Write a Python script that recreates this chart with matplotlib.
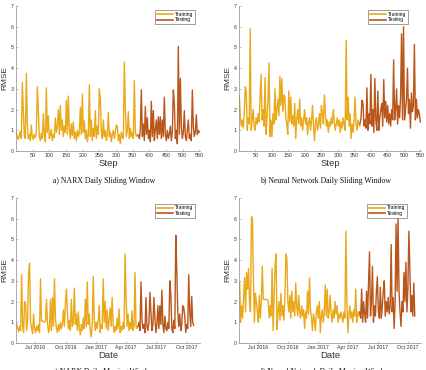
import numpy as np
import matplotlib
matplotlib.use("Agg")
import matplotlib.pyplot as plt

# ---------------- data ----------------
# a) NARX daily sliding window (step index, sampled every 3 steps)
a_train = [0.85,0.7,0.55,0.75,0.95,0.6,3.3,1.9,0.75,0.6,
           3.75,1.3,0.6,0.8,0.5,1.25,0.7,0.55,0.8,0.65,
           0.9,3.1,2.0,0.7,0.5,0.85,0.6,1.8,0.8,0.45,
           3.05,0.9,1.7,0.6,0.75,1.05,0.5,0.8,0.65,1.6,
           0.9,1.2,2.0,0.8,2.2,1.0,1.5,0.7,1.2,0.9,
           2.45,0.8,2.65,1.1,0.6,1.3,0.75,1.4,0.6,0.9,
           0.5,1.0,0.7,0.9,2.1,0.8,2.75,0.9,1.45,0.6,
           1.0,0.45,0.8,3.2,0.7,1.5,0.5,1.1,0.7,1.95,
           0.6,1.2,0.8,3.0,2.5,0.9,0.6,1.5,0.7,1.0,
           0.5,0.8,1.85,0.7,0.9,0.45,0.8,1.0,0.6,0.9,
           1.25,1.2,0.5,0.8,0.35,0.9,0.7,0.6,4.3,2.05,
           0.7,1.0,1.9,0.6,1.1,0.7,0.9,0.6,3.4,0.9,
           0.7,0.8,0.75]
a_test = [0.75,0.6,1.0,2.95,0.7,1.3,0.5,2.15,0.8,1.6,
          0.6,1.0,0.45,2.4,0.7,1.95,0.5,1.0,1.5,0.6,
          1.65,0.8,1.65,0.6,1.5,0.7,2.6,0.8,0.5,1.0,
          0.6,0.8,1.2,0.5,0.9,2.95,2.3,0.6,1.0,0.35,
          5.05,0.8,3.5,1.2,0.6,0.9,1.95,0.7,0.5,1.0,
          1.5,0.6,0.8,0.5,2.95,1.2,0.7,0.9,1.75,0.8,
          1.0,0.9]

# b) Neural network daily sliding window
b_train = [2.65,1.6,1.2,1.5,1.1,1.8,3.1,2.9,1.0,1.6,
           1.3,5.9,1.0,1.5,2.0,1.2,1.0,1.6,1.3,1.8,
           1.4,2.6,3.7,1.5,2.0,1.2,3.55,0.8,1.6,2.5,
           4.25,0.7,1.5,0.7,1.8,1.3,3.0,1.5,2.0,2.5,
           1.7,3.6,2.2,3.5,1.9,2.7,2.6,1.6,1.3,0.8,
           2.9,1.4,2.6,1.3,1.7,1.2,2.3,0.6,1.5,2.0,
           1.3,2.5,1.2,1.6,1.0,1.5,2.0,1.3,1.6,0.8,
           1.4,1.6,1.0,1.5,2.2,1.2,0.5,1.4,1.6,1.0,
           1.3,1.8,1.1,2.2,1.8,1.3,2.7,1.8,1.2,1.5,
           0.9,1.4,1.2,1.6,1.3,2.0,1.4,1.0,1.3,1.6,
           1.2,1.5,0.9,1.4,1.1,1.6,1.3,1.0,5.35,1.5,
           2.6,1.2,1.8,0.6,1.3,0.9,1.5,2.6,1.3,1.0,
           1.5,1.3,1.2]
b_test = [1.3,1.6,2.45,2.3,1.2,1.5,1.1,3.05,1.0,1.8,
          1.3,3.7,1.2,2.0,0.9,3.5,1.5,1.0,2.9,1.0,
          1.6,2.0,2.3,1.2,3.45,1.6,2.4,1.4,2.2,1.3,
          1.8,1.2,2.0,1.5,4.4,1.5,2.0,3.0,1.3,2.2,
          1.6,2.6,5.65,1.5,6.0,1.5,2.0,2.5,4.0,1.8,
          2.5,1.1,2.8,1.9,2.2,5.15,1.5,2.5,1.6,2.0,
          1.8,1.4]

# c) NARX daily moving window (every 3 days from start date)
c_train = [0.9,0.7,0.55,0.8,0.6,3.3,0.8,0.5,2.0,1.85,
           0.6,1.1,3.4,3.85,1.0,0.7,0.45,1.4,0.7,0.5,
           0.8,0.6,0.9,0.5,3.1,1.05,1.05,1.05,1.0,1.05,
           2.1,1.0,0.5,0.7,2.1,0.6,2.2,0.8,3.1,1.2,
           0.7,0.5,0.9,0.6,1.0,0.7,0.9,1.6,0.8,1.9,
           2.6,1.5,0.7,1.1,0.6,2.1,0.8,1.0,2.65,0.9,
           1.4,0.6,1.5,0.7,0.4,0.9,0.6,1.2,0.7,2.1,
           0.8,2.95,0.9,1.4,0.6,0.3,0.9,3.2,1.2,0.6,
           1.0,0.7,1.1,1.8,0.5,0.9,0.7,3.1,1.0,2.0,
           0.7,1.6,0.6,1.1,1.7,0.8,2.2,0.9,0.5,0.8,
           0.6,1.2,0.7,1.65,0.5,0.8,0.6,1.0,0.7,4.3,
           2.3,0.8,1.4,0.6,1.0,0.7,1.55,0.6,0.8,3.4,
           0.8,0.7,0.8]
c_test = [0.8,1.0,0.6,2.95,1.1,0.7,0.9,0.5,2.2,0.8,
          0.6,1.0,2.45,1.5,0.6,0.9,2.2,1.2,0.5,0.9,
          1.8,0.7,1.8,0.9,2.55,0.9,0.5,1.3,0.7,0.6,
          1.0,0.7,3.0,2.35,0.7,0.5,1.1,0.7,5.2,3.5,
          1.5,0.8,1.4,0.6,0.9,1.8,1.7,1.3,0.5,0.9,
          0.7,3.3,1.5,0.8,2.25,1.0,0.85]

# d) Neural network daily moving window
d_train = [2.9,1.0,1.8,1.2,2.2,3.15,1.5,3.4,2.6,3.6,
           2.0,1.5,6.1,6.0,3.0,1.0,2.4,2.0,1.5,1.0,
           2.3,1.2,2.0,3.7,2.1,2.1,2.1,2.1,2.1,2.0,
           1.2,1.8,1.3,3.6,0.6,2.2,3.75,4.3,0.65,1.5,
           2.0,1.1,2.4,1.3,1.8,1.1,2.2,4.3,4.1,2.0,
           1.5,2.3,1.2,2.5,1.5,2.0,1.3,2.9,1.8,1.3,
           2.3,1.5,1.2,1.8,1.3,1.6,0.7,1.5,1.2,2.5,
           1.4,3.15,1.6,1.2,0.6,1.4,1.1,0.6,1.5,1.8,
           1.2,2.0,0.5,1.3,1.6,1.0,1.5,2.8,1.3,2.6,
           1.2,1.5,2.3,1.4,1.0,1.6,1.2,2.0,1.4,1.8,
           1.0,1.4,1.2,1.5,1.3,1.0,1.5,1.2,5.4,2.0,
           0.5,1.3,1.8,1.2,1.5,1.0,1.6,1.3,2.6,1.0,
           1.5,1.3,1.5]
d_test = [1.5,1.2,2.6,1.0,2.0,1.4,1.0,2.5,1.2,2.9,
          4.4,1.3,2.0,3.7,1.0,1.8,1.3,2.5,3.2,1.5,
          1.2,2.7,1.2,1.8,2.5,3.0,1.3,2.0,1.5,2.2,
          1.4,1.8,4.75,1.5,2.2,0.7,2.0,5.75,2.5,6.1,
          2.5,1.5,0.8,2.0,1.5,3.4,2.0,3.9,1.5,2.6,
          5.4,3.6,1.5,2.3,1.3,2.9,1.3]

titles = ["a) NARX Daily Sliding Window",
          "b) Neural Network Daily Sliding Window",
          "c) NARX Daily Moving Window",
          "d) Neural Network Daily Moving Window"]
step_ticks = [50,100,150,200,250,300,350,400,450,500,550]
date_ticks = ["2016-07-01","2016-10-01","2017-01-01","2017-04-01","2017-07-01","2017-10-01"]
date_labels = ["Jul 2016","Oct 2016","Jan 2017","Apr 2017","Jul 2017","Oct 2017"]
start_date = "2016-05-06"
sample_every = 3

# ---------------- style ----------------
TRAIN_C = "#EAA91A"
TEST_C = "#B9561B"
SPINE_C = "#8a8a8a"
TXT_C = "#333333"
plt.rcParams['font.family'] = ['Liberation Sans', 'DejaVu Sans']

W, H = 427, 370
fig = plt.figure(figsize=(W/100, H/100), dpi=100)

def box(l, r, t, b):
    return [l/W, 1 - b/H, (r-l)/W, (b-t)/H]

axes_px = [(16, 200, 6, 151), (239, 421, 6, 151),
           (16, 200, 198, 343), (239, 421, 198, 343)]
leg_anchor = [(0.973, 0.972), (0.929, 0.972), (0.973, 0.959), (0.923, 0.959)]

series = [(a_train, a_test), (b_train, b_test), (c_train, c_test), (d_train, d_test)]

t0 = np.datetime64(start_date)
for k in range(4):
    ax = fig.add_axes(box(*axes_px[k]))
    tr, te = series[k]
    xtr = np.arange(len(tr)) * sample_every + (1 if k < 2 else 0)
    xte = xtr[-1] + np.arange(len(te)) * sample_every
    if k >= 2:
        xtr = t0 + xtr.astype('timedelta64[D]')
        xte = t0 + xte.astype('timedelta64[D]')
    ax.plot(xtr, tr, color=TRAIN_C, lw=1.0, label="Training")
    ax.plot(xte, te, color=TEST_C, lw=1.0, label="Testing")
    ax.set_ylim(0, 7)
    ax.set_yticks(range(0, 8))
    if k < 2:
        ax.set_xlim(0, 552)
        ax.set_xticks(step_ticks)
        ax.set_xlabel("Step", fontsize=6.8, color=TXT_C, labelpad=0.3)
    else:
        ax.set_xlim(t0 - np.timedelta64(2, 'D'), t0 + np.timedelta64(553, 'D'))
        ax.set_xticks([np.datetime64(d) for d in date_ticks])
        ax.set_xticklabels(date_labels)
        ax.set_xlabel("Date", fontsize=6.8, color=TXT_C, labelpad=0.3)
    ax.set_ylabel("RMSE", fontsize=6.0, color=TXT_C, labelpad=1.5)
    for s in ["top", "right"]:
        ax.spines[s].set_visible(False)
    for s in ["left", "bottom"]:
        ax.spines[s].set_color(SPINE_C)
        ax.spines[s].set_linewidth(0.5)
    ax.tick_params(labelsize=3.8, colors=TXT_C, direction='in', length=1.5,
                   width=0.4, pad=1.5)
    ax.tick_params(axis='both', color=SPINE_C)
    leg = ax.legend(loc='upper right', bbox_to_anchor=leg_anchor[k],
                    fontsize=3.6, handlelength=3.3, handletextpad=0.4,
                    borderpad=0.3, labelspacing=0.15, borderaxespad=0,
                    fancybox=False, framealpha=1)
    leg.get_frame().set_edgecolor("#555555")
    leg.get_frame().set_linewidth(0.4)
    for line in leg.get_lines():
        line.set_linewidth(1.2)
    l, r, t, b = axes_px[k]
    cy = 181 if k < 2 else 372
    fig.text(((l + r) / 2 - 4) / W, 1 - cy / H, titles[k], ha='center', va='center',
             fontsize=5.6, family='Liberation Serif', color='#111111')

fig.savefig("out.png", dpi=100)
